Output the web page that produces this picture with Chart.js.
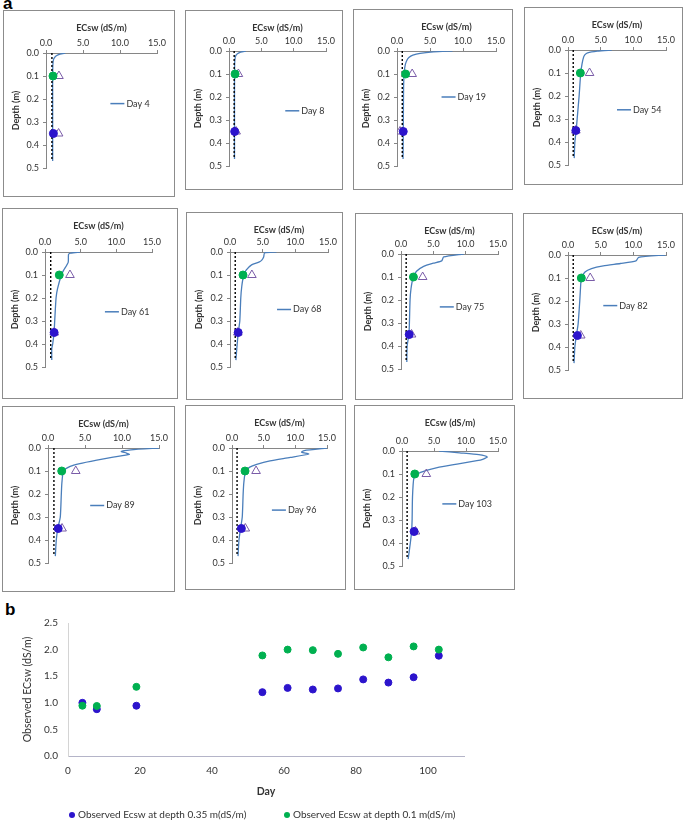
<!DOCTYPE html>
<html>
<head>
<meta charset="utf-8">
<script src="https://cdn.jsdelivr.net/npm/chart.js@4.4.0/dist/chart.umd.min.js"></script>
<style>
  body { margin: 0; background: #fff; }
  #page { position: relative; width: 685px; height: 821px; overflow: hidden; }
  .box { position: absolute; border: 1px solid #8c8c8c; box-sizing: border-box; background: #fff; }
  .box canvas { position: absolute; left: 0; top: 0; }
  #bChart { position: absolute; left: 0; top: 600px; }
  .tag { position: absolute; font: bold 17px "Liberation Sans", Arial, sans-serif; line-height: 17px; }
</style>
</head>
<body>
<div id="page">
  <div class="tag" style="left:3px;top:-5px">a</div>
  <div class="tag" style="left:5px;top:601px">b</div>
  <canvas id="bChart" width="685" height="221"></canvas>
</div>
<script>
// sampling days and observed ECsw (dS/m)
const days = [4, 8, 19, 54, 61, 68, 75, 82, 89, 96, 103];
const obsDepths = [0.1, 0.35];
const obsAt035 = [1.00, 0.88, 0.945, 1.20, 1.28, 1.25, 1.27, 1.44, 1.38, 1.48, 1.885];
const obsAt01 = [0.945, 0.94, 1.30, 1.89, 2.00, 1.99, 1.92, 2.04, 1.855, 2.06, 2.00];
// open triangles at 0.1 m and 0.35 m
const triAt01 = [1.75, 1.45, 2.3, 3.3, 3.5, 3.35, 3.35, 3.4, 3.75, 3.8, 3.8];
const triAt035 = [1.7, 1.1, 0.45, 1.2, 1.3, 1.2, 1.63, 1.95, 1.9, 2.1, 2.1];
// dotted line (initial profile)
const initialEc = [0.8, 0.8];
const initialDepth = [0, 0.47];

// simulated profiles, one pair of arrays per day
const depthDay4 = [0, 0.005, 0.012, 0.02, 0.03, 0.05, 0.1, 0.2, 0.3, 0.4, 0.47];
const ecDay4 = [2.6, 1.9, 1.4, 1.15, 1.0, 0.93, 0.9, 0.9, 0.9, 0.9, 0.9];
const depthDay8 = [0, 0.005, 0.012, 0.02, 0.03, 0.05, 0.1, 0.2, 0.3, 0.4, 0.47];
const ecDay8 = [2.6, 1.8, 1.3, 1.05, 0.95, 0.88, 0.86, 0.85, 0.85, 0.85, 0.85];
const depthDay19 = [0, 0.004, 0.01, 0.018, 0.028, 0.04, 0.06, 0.09, 0.15, 0.25, 0.35, 0.47];
const ecDay19 = [8.4, 5.5, 3.5, 2.4, 1.8, 1.5, 1.25, 1.1, 1.0, 0.97, 0.95, 0.92];
const depthDay54 = [0, 0.005, 0.012, 0.02, 0.03, 0.06, 0.1, 0.2, 0.3, 0.35, 0.4, 0.47];
const ecDay54 = [6.7, 4.5, 3.0, 2.6, 2.4, 2.15, 1.95, 1.7, 1.4, 1.25, 1.05, 0.95];
const depthDay61 = [0, 0.005, 0.01, 0.045, 0.08, 0.1, 0.16, 0.2, 0.3, 0.35, 0.4, 0.42, 0.47];
const ecDay61 = [4.9, 3.6, 3.3, 3.25, 2.6, 2.3, 1.75, 1.55, 1.36, 1.27, 1.08, 0.95, 0.95];
const depthDay68 = [0, 0.004, 0.022, 0.034, 0.043, 0.056, 0.078, 0.1, 0.15, 0.2, 0.3, 0.35, 0.4, 0.47];
const ecDay68 = [7.1, 5.3, 5.15, 4.9, 4.5, 3.3, 2.5, 2.1, 1.8, 1.65, 1.5, 1.27, 1.1, 0.9];
const depthDay75 = [0, 0.013, 0.03, 0.04, 0.054, 0.075, 0.1, 0.15, 0.2, 0.3, 0.35, 0.4, 0.47];
const ecDay75 = [9.7, 6.6, 6.3, 5.0, 3.5, 2.4, 1.9, 1.55, 1.4, 1.3, 1.22, 0.95, 0.9];
const depthDay82 = [0, 0.01, 0.026, 0.037, 0.047, 0.059, 0.074, 0.1, 0.15, 0.2, 0.3, 0.35, 0.4, 0.47];
const ecDay82 = [14.9, 10.8, 10.4, 8.0, 5.4, 3.6, 2.6, 2.05, 1.9, 1.8, 1.55, 1.28, 1.05, 0.92];
const depthDay89 = [0, 0.008, 0.015, 0.022, 0.028, 0.04, 0.053, 0.068, 0.08, 0.1, 0.15, 0.2, 0.3, 0.35, 0.4, 0.47];
const ecDay89 = [15.0, 11.2, 9.9, 10.6, 11.0, 8.8, 6.6, 4.3, 3.0, 2.1, 1.88, 1.8, 1.66, 1.32, 1.12, 0.99];
const depthDay96 = [0, 0.011, 0.018, 0.026, 0.041, 0.056, 0.071, 0.083, 0.1, 0.15, 0.2, 0.3, 0.35, 0.4, 0.47];
const ecDay96 = [15.0, 11.4, 11.0, 12.1, 9.2, 6.0, 3.9, 2.8, 2.14, 1.87, 1.76, 1.62, 1.35, 1.1, 0.95];
const depthDay103 = [0, 0.008, 0.016, 0.026, 0.036, 0.042, 0.057, 0.072, 0.085, 0.1, 0.118, 0.2, 0.3, 0.35, 0.4, 0.47];
const ecDay103 = [5.8, 9.0, 12.0, 13.3, 12.6, 11.7, 8.6, 5.5, 3.7, 2.4, 1.85, 1.64, 1.58, 1.5, 1.3, 0.96];

const profileDepths = [depthDay4, depthDay8, depthDay19, depthDay54, depthDay61, depthDay68,
  depthDay75, depthDay82, depthDay89, depthDay96, depthDay103];
const profileEcs = [ecDay4, ecDay8, ecDay19, ecDay54, ecDay61, ecDay68,
  ecDay75, ecDay82, ecDay89, ecDay96, ecDay103];

// layout of the small panels: box [left, top, width, height], plot [left offset, width, top offset]
const panelBoxes = [
  [3, 10, 172, 187], [185, 10, 158, 180], [353, 9, 160, 181], [524, 7, 159, 178],
  [2, 208, 176, 191], [186, 212, 157, 188], [355, 213, 158, 187], [523, 213, 160, 186],
  [2, 406, 173, 186], [185, 405, 161, 185], [354, 405, 161, 185]
];
const plotBoxes = [
  [43, 111, 43], [44, 97, 41], [44, 99, 42], [44, 98, 43],
  [43, 107, 44], [44, 98, 40], [46, 97, 41], [45, 98, 42],
  [46, 111, 42], [47, 95, 43], [48, 96, 46]
];
const legendSpots = [
  [0.58, 0.22], [0.58, 0.26], [0.45, 0.2], [0.5, 0.26],
  [0.56, 0.26], [0.48, 0.25], [0.40, 0.23], [0.36, 0.22],
  [0.38, 0.25], [0.42, 0.27], [0.42, 0.23]
];

const FONT = 'Lato, "Open Sans", sans-serif';
const TEXT = '#333';
const AXIS = '#868686';
const PROFILE_BLUE = '#4a7ebb';
const OBS_GREEN = '#00b050';
const OBS_BLUE = '#2c14cc';
const TRI_PURPLE = '#7a5ca8';

Chart.defaults.font.family = FONT;
Chart.defaults.font.size = 9;
Chart.defaults.color = TEXT;

function pairs(xs, ys) {
  return xs.map((x, i) => ({ x: x, y: ys[i] }));
}

// "— Day N" label drawn inside the plot area
const dayLabel = {
  id: 'dayLabel',
  afterDatasetsDraw(chart, args, opts) {
    const { ctx, chartArea, scales } = chart;
    const x = chartArea.left + opts.fx * chartArea.width;
    const y = scales.y.getPixelForValue(opts.depth);
    ctx.save();
    ctx.strokeStyle = PROFILE_BLUE;
    ctx.lineWidth = 1.5;
    ctx.beginPath();
    ctx.moveTo(x, y);
    ctx.lineTo(x + 14, y);
    ctx.stroke();
    ctx.fillStyle = TEXT;
    ctx.font = '9px ' + FONT;
    ctx.textBaseline = 'middle';
    ctx.fillText(opts.text, x + 16, y);
    ctx.restore();
  }
};

// legend under panel b
const dotLegend = {
  id: 'dotLegend',
  afterDraw(chart, args, opts) {
    const { ctx, chartArea } = chart;
    const y = chartArea.bottom + opts.dy;
    ctx.save();
    ctx.font = '10px ' + FONT;
    ctx.textBaseline = 'middle';
    chart.data.datasets.forEach((ds, i) => {
      const x = opts.xs[i];
      ctx.fillStyle = ds.backgroundColor;
      ctx.beginPath();
      ctx.arc(x, y, 3, 0, Math.PI * 2);
      ctx.fill();
      ctx.fillStyle = TEXT;
      ctx.fillText(ds.label, x + 6, y);
    });
    ctx.restore();
  }
};

function makePanel(i) {
  const [bx, by, bw, bh] = panelBoxes[i];
  const [pl, pw, pt] = plotBoxes[i];
  const box = document.createElement('div');
  box.className = 'box';
  box.style.left = bx + 'px';
  box.style.top = by + 'px';
  box.style.width = bw + 'px';
  box.style.height = bh + 'px';
  const canvas = document.createElement('canvas');
  const cw = bw - 2, ch = bh - 2;
  canvas.width = cw;
  canvas.height = ch;
  box.appendChild(canvas);
  document.getElementById('page').appendChild(box);

  new Chart(canvas, {
    type: 'scatter',
    data: {
      datasets: [
        {
          label: 'Day ' + days[i],
          data: pairs(profileEcs[i], profileDepths[i]),
          showLine: true,
          borderColor: PROFILE_BLUE,
          borderWidth: 1.3,
          pointRadius: 0,
          tension: 0.2,
          order: 3
        },
        {
          data: pairs(initialEc, initialDepth),
          showLine: true,
          borderColor: '#000',
          borderDash: [2, 2],
          borderWidth: 1.4,
          pointRadius: 0,
          order: 2
        },
        {
          data: pairs([triAt01[i], triAt035[i]], obsDepths),
          pointStyle: 'triangle',
          pointRadius: 5,
          backgroundColor: 'rgba(255,255,255,0)',
          borderColor: TRI_PURPLE,
          borderWidth: 1,
          order: 1
        },
        {
          data: pairs([obsAt01[i]], [obsDepths[0]]),
          pointRadius: 4,
          backgroundColor: OBS_GREEN,
          borderColor: OBS_GREEN,
          order: 0
        },
        {
          data: pairs([obsAt035[i]], [obsDepths[1]]),
          pointRadius: 4,
          backgroundColor: OBS_BLUE,
          borderColor: OBS_BLUE,
          order: 0
        }
      ]
    },
    options: {
      responsive: false,
      animation: false,
      events: [],
      layout: { padding: { left: 0, top: 0, right: cw - (pl - 1) - pw, bottom: ch - (pt - 1) - 115 } },
      scales: {
        x: {
          type: 'linear',
          position: 'top',
          min: 0,
          max: 15,
          afterFit: s => { s.height = pt - 1; },
          ticks: { stepSize: 5, padding: 2, maxRotation: 0, callback: v => v.toFixed(1) },
          grid: { drawOnChartArea: false, tickLength: 3, color: AXIS },
          border: { color: AXIS },
          title: { display: true, text: 'ECsw (dS/m)', font: { weight: 'bold', size: 9 }, padding: { top: 12, bottom: 0 } }
        },
        y: {
          type: 'linear',
          reverse: true,
          min: 0,
          max: 0.5,
          afterFit: s => { s.width = pl - 1; },
          ticks: { stepSize: 0.1, padding: 4, callback: v => v.toFixed(1) },
          grid: { drawOnChartArea: false, tickLength: 3, color: AXIS },
          border: { color: AXIS },
          title: { display: true, text: 'Depth (m)', font: { weight: 'bold', size: 9 }, padding: { top: 7, bottom: 0 } }
        }
      },
      plugins: {
        legend: { display: false },
        tooltip: { enabled: false },
        dayLabel: { fx: legendSpots[i][0], depth: legendSpots[i][1], text: 'Day ' + days[i] }
      }
    },
    plugins: [dayLabel]
  });
}

days.forEach((d, i) => makePanel(i));

// panel b: observed ECsw over time
new Chart(document.getElementById('bChart'), {
  type: 'scatter',
  data: {
    datasets: [
      {
        label: 'Observed Ecsw at depth 0.35 m(dS/m)',
        data: pairs(days, obsAt035),
        pointRadius: 3.5,
        backgroundColor: OBS_BLUE,
        borderColor: OBS_BLUE,
        order: 1
      },
      {
        label: 'Observed Ecsw at depth 0.1 m(dS/m)',
        data: pairs(days, obsAt01),
        pointRadius: 3.5,
        backgroundColor: OBS_GREEN,
        borderColor: OBS_GREEN,
        order: 0
      }
    ]
  },
  options: {
    responsive: false,
    animation: false,
    events: [],
    layout: { padding: { left: 0, top: 23, right: 221, bottom: 20 } },
    scales: {
      x: {
        type: 'linear',
        min: 0,
        max: 110,
        afterFit: s => { s.height = 45; },
        afterBuildTicks: s => { s.ticks = s.ticks.filter(t => t.value % 20 === 0); },
        ticks: { stepSize: 20, padding: 1, font: { size: 10 } },
        grid: { display: false },
        border: { color: '#b4b4c8' },
        title: { display: true, text: 'Day', font: { weight: 'bold', size: 10.5 }, padding: { top: 0, bottom: 3 } }
      },
      y: {
        type: 'linear',
        min: 0,
        max: 2.5,
        afterFit: s => { s.width = 68; },
        ticks: { stepSize: 0.5, padding: 2, font: { size: 10 }, callback: v => v.toFixed(1) },
        grid: { display: false },
        border: { color: '#d4d4d4' },
        title: { display: true, text: 'Observed ECsw (dS/m)', font: { size: 10.5 }, padding: { top: 21, bottom: 0 } }
      }
    },
    plugins: {
      legend: { display: false },
      tooltip: { enabled: false },
      dotLegend: { xs: [72, 287], dy: 59 }
    }
  },
  plugins: [dotLegend]
});
</script>
</body>
</html>
